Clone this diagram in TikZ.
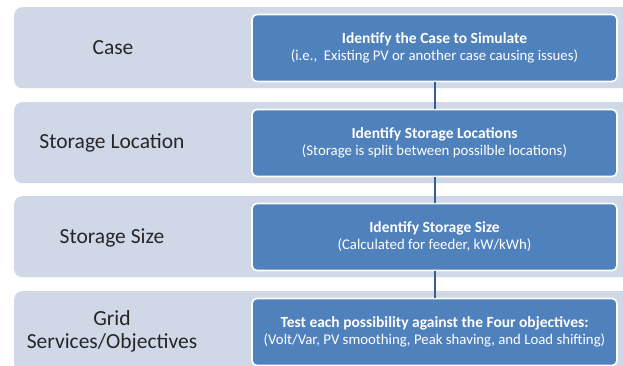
\documentclass[tikz,border=0pt]{standalone}
\usepackage{fontspec}
\setmainfont{Carlito}
\definecolor{bandfill}{RGB}{208,216,232}
\definecolor{boxblue}{RGB}{79,129,189}
\definecolor{linkblue}{RGB}{56,93,145}
\begin{document}
\begin{tikzpicture}[x=1pt,y=-1pt,
  band/.style={fill=bandfill, draw=none, rounded corners=8pt, minimum width=640pt, minimum height=81pt, anchor=north west, inner sep=0pt},
  stepbox/.style={fill=boxblue, draw=white, line width=1.6pt, rounded corners=5pt, minimum width=365pt, minimum height=67pt, text=white, align=center, inner sep=0pt, font=\fontsize{14.8}{17}\selectfont},
  hd/.style={},
  tag/.style={font=\fontsize{21.5}{23}\selectfont, text=black!85, align=center},
  link/.style={draw=linkblue, line width=2pt}]
\newcommand{\hdtext}[1]{{\fontsize{15.5}{17}\selectfont\bfseries #1}}
\useasboundingbox (0,0) rectangle (623,365);
\clip (0,0) rectangle (623,365);
\node[band] (b1) at (14,7) {};
\node[band] (b2) at (14,102) {};
\node[band] (b3) at (14,196) {};
\node[band] (b4) at (14,291) {};
\node[tag] (t1) at (113,48) {Case};
\node[tag] (t2) at (112,143) {Storage Location};
\node[tag] (t3) at (112,238) {Storage Size};
\node[tag] (t4) at (112,331) {Grid\\Services/Objectives};
\node[stepbox] (s1) at (434.5,48) {\hdtext{Identify the Case to Simulate}\\(i.e.,\ \ Existing PV or another case causing issues)};
\node[stepbox] (s2) at (434.5,143) {\hdtext{Identify Storage Locations}\\(Storage is split between possilble locations)};
\node[stepbox] (s3) at (434.5,237) {\hdtext{Identify Storage Size}\\(Calculated for feeder,\ kW/kWh)};
\node[stepbox] (s4) at (434.5,332) {\hdtext{Test each possibility against the Four objectives:}\\(Volt/Var, PV smoothing, Peak shaving, and Load shifting)};
\draw[link] (s1.south) -- (s2.north);
\draw[link] (s2.south) -- (s3.north);
\draw[link] (s3.south) -- (s4.north);
\end{tikzpicture}
\end{document}
